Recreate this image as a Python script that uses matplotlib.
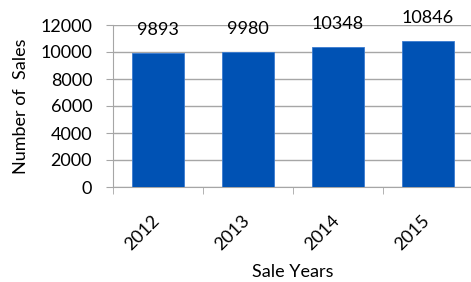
import matplotlib.pyplot as plt
import matplotlib.transforms as mtransforms
import numpy as np

years = ["2012", "2013", "2014", "2015"]
sales = [9893, 9980, 10348, 10846]

plt.rcParams['font.family'] = ['Lato', 'DejaVu Sans']

fig = plt.figure(figsize=(4.71, 2.82), dpi=100)
ax = fig.add_axes([113/471, 95/282, 360/471, 162/282])

x = np.arange(len(years))
bars = ax.bar(x, sales, width=0.58, color='#0052B4', edgecolor='#3a7bd0', linewidth=0.6, zorder=3)

for xi, v in zip(x, sales):
    ax.annotate(str(v), (xi, v), xytext=(0, 13), textcoords='offset points',
                ha='center', va='baseline', fontsize=13, color='black')

ax.set_xlim(-0.5, -0.5 + 360/90)
ax.set_ylim(0, 12000)
ax.set_yticks(range(0, 12001, 2000))
ax.yaxis.grid(True, color='#a6a6a6', linewidth=1.0, zorder=0)

ax.set_xticks(x)
ax.set_xticklabels(years, rotation=45, ha='right', va='top', rotation_mode='anchor', fontsize=13)
ax.set_xticks(np.arange(-0.5, 4, 1), minor=True)
ax.tick_params(axis='x', which='major', length=0, pad=18)
ax.tick_params(axis='x', which='minor', length=5, color='#a6a6a6', direction='out')
ax.tick_params(axis='y', length=5, color='#a6a6a6', labelsize=13, pad=10)

# nudge rotated year labels a little left
shift = mtransforms.ScaledTranslation(-5/72, 0, fig.dpi_scale_trans)
for lbl in ax.get_xticklabels():
    lbl.set_transform(lbl.get_transform() + shift)

for s in ['top', 'right']:
    ax.spines[s].set_visible(False)
for s in ['left', 'bottom']:
    ax.spines[s].set_color('#a6a6a6')

ax.set_xlabel("Sale Years", fontsize=13, labelpad=8)
ax.set_ylabel("Number of  Sales", fontsize=13, labelpad=8)

fig.savefig("out.png", dpi=100)
